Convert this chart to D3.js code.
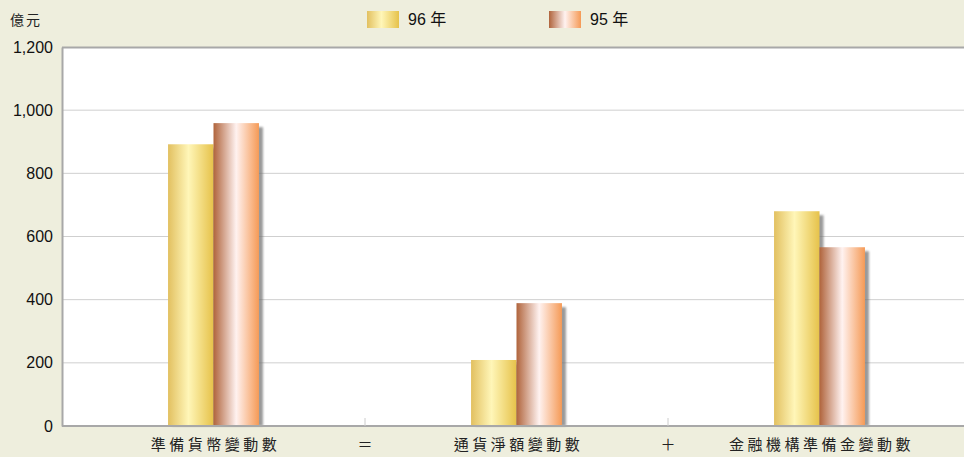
<!DOCTYPE html>
<html>
<head>
<meta charset="utf-8">
<script src="https://cdn.jsdelivr.net/npm/d3@7"></script>
<style>
  body { margin: 0; background: #eeeedd; }
  svg { display: block; }
  .tick text { font-family: "Liberation Sans", Arial, sans-serif; font-size: 16px; fill: #111; }
  .cat { font-family: "Noto Sans CJK TC", sans-serif; font-size: 15px; fill: #222; letter-spacing: 3.5px; }
</style>
</head>
<body>
<script>
const categories = ['準備貨幣變動數', '通貨淨額變動數', '金融機構準備金變動數'];
const operators = ['＝', '＋'];
const seriesNames = ['96 年', '95 年'];
const values96 = [892, 209, 680];
const values95 = [959, 389, 566];
const yTicks = [0, 200, 400, 600, 800, 1000, 1200];

const W = 964, H = 457;
const margin = { top: 47, right: -7, bottom: 31, left: 62 };
const width = W - margin.left - margin.right;
const height = H - margin.top - margin.bottom;

const svg = d3.select('body').append('svg')
  .attr('width', W).attr('height', H);

const defs = svg.append('defs');
function grad(id, stops) {
  const g = defs.append('linearGradient').attr('id', id)
    .attr('x1', '0%').attr('x2', '100%').attr('y1', '0%').attr('y2', '0%');
  stops.forEach(s => g.append('stop').attr('offset', s[0]).attr('stop-color', s[1]));
}
grad('g96', [['0%', '#e2c060'], ['45%', '#fff6b8'], ['100%', '#e6c24a']]);
grad('g95', [['0%', '#b0643c'], ['50%', '#fff2f0'], ['100%', '#f59a56']]);
defs.append('filter').attr('id', 'blur').append('feGaussianBlur').attr('stdDeviation', 1.2);

svg.append('rect').attr('width', W).attr('height', H).attr('fill', '#eeeedd');

const g = svg.append('g').attr('transform', `translate(${margin.left},${margin.top})`);

const x = d3.scaleBand().domain(categories).range([0, width]);
const xs = d3.scaleBand().domain(seriesNames).range([x.bandwidth() * 0.35, x.bandwidth() * 0.65]);
const y = d3.scaleLinear().domain([0, 1200]).range([height, 0]);

g.append('rect').attr('width', width).attr('height', height).attr('fill', '#fff');

g.append('g').selectAll('line').data(yTicks.slice(1, -1)).enter().append('line')
  .attr('x1', 0).attr('x2', width)
  .attr('y1', d => y(d)).attr('y2', d => y(d))
  .attr('stroke', '#cfcfcf').attr('stroke-width', 1);

g.append('line').attr('x1', 0).attr('x2', width).attr('y1', 0.5).attr('y2', 0.5)
  .attr('stroke', '#a8a8a8').attr('stroke-width', 2);

const rows = categories.map((c, i) => [
  { cat: c, s: seriesNames[0], v: values96[i], f: 'url(#g96)' },
  { cat: c, s: seriesNames[1], v: values95[i], f: 'url(#g95)' }
]).flat();

const bars = g.append('g');
bars.selectAll('.shadow').data(rows).enter().append('rect')
  .attr('x', d => x(d.cat) + xs(d.s) + 4)
  .attr('y', d => y(d.v) + 4)
  .attr('width', xs.bandwidth())
  .attr('height', d => height - y(d.v) - 4)
  .attr('fill', '#6f6f6f').attr('opacity', 0.7)
  .attr('filter', 'url(#blur)');
bars.selectAll('.bar').data(rows).enter().append('rect')
  .attr('x', d => x(d.cat) + xs(d.s))
  .attr('y', d => y(d.v))
  .attr('width', xs.bandwidth())
  .attr('height', d => height - y(d.v))
  .attr('fill', d => d.f);

const yAxis = d3.axisLeft(y).tickValues(yTicks).tickSize(0).tickPadding(9).tickFormat(d3.format(','));
g.append('g').call(yAxis).call(a => a.select('.domain').attr('stroke', '#a8a8a8').attr('stroke-width', 2));

g.append('line').attr('x1', 0).attr('x2', width).attr('y1', height).attr('y2', height)
  .attr('stroke', '#a8a8a8').attr('stroke-width', 2);

g.selectAll('.xtick').data(categories.slice(1)).enter().append('line')
  .attr('x1', d => x(d)).attr('x2', d => x(d))
  .attr('y1', height - 8).attr('y2', height)
  .attr('stroke', '#ccc');

g.selectAll('.cat').data(categories).enter().append('text')
  .attr('class', 'cat')
  .attr('x', d => x(d) + x.bandwidth() / 2 + 2)
  .attr('y', height + 24)
  .attr('text-anchor', 'middle')
  .text(d => d);

g.selectAll('.op').data(operators).enter().append('text')
  .attr('class', 'cat')
  .attr('x', (d, i) => x(categories[i + 1]))
  .attr('y', height + 24)
  .attr('text-anchor', 'middle')
  .style('letter-spacing', '0px')
  .text(d => d);

svg.append('text').attr('class', 'cat').attr('x', 10).attr('y', 25)
  .style('font-size', '14px').style('letter-spacing', '2px').text('億元');

const legendX = [367, 549];
const legend = svg.selectAll('.leg').data(seriesNames).enter().append('g')
  .attr('transform', (d, i) => `translate(${legendX[i]},11)`);
legend.append('rect').attr('width', 32).attr('height', 17)
  .attr('fill', (d, i) => i === 0 ? 'url(#g96)' : 'url(#g95)');
legend.append('text').attr('x', 41).attr('y', 14)
  .style('font-family', '"Liberation Sans", "Noto Sans CJK TC", sans-serif')
  .style('font-size', '16px').attr('fill', '#111')
  .text(d => d);
</script>
</body>
</html>
